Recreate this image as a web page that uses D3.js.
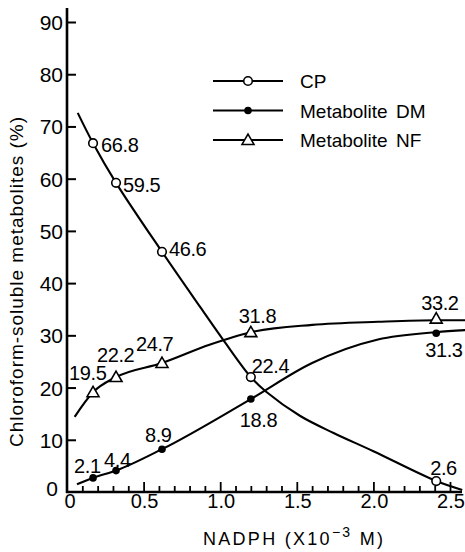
<!DOCTYPE html>
<html><head><meta charset="utf-8">
<script src="https://cdn.jsdelivr.net/npm/d3@7/dist/d3.min.js"></script>
<style>
html,body{margin:0;padding:0;background:#fff;}
svg{display:block;}
text{font-family:"Liberation Sans",Arial,Helvetica,sans-serif;fill:#000;}
</style></head>
<body>
<script>
// ---- data ----
const xTickValues = [0, 0.5, 1.0, 1.5, 2.0, 2.5];
const xTickLabels = ["0", "0.5", "1.0", "1.5", "2.0", "2.5"];
const yTickValues = [0, 10, 20, 30, 40, 50, 60, 70, 80, 90];
const yTickLabels = ["0", "10", "20", "30", "40", "50", "60", "70", "80", "90"];

const markerX = [0.17, 0.32, 0.62, 1.2, 2.41];
const cpY = [66.8, 59.2, 46.0, 22.0, 2.1];
const dmY = [2.7, 4.1, 8.2, 17.8, 30.4];
const nfY = [19.1, 22.0, 24.7, 30.6, 33.2];
const cpLabels = ["66.8", "59.5", "46.6", "22.4", "2.6"];
const dmLabels = ["2.1", "4.4", "8.9", "18.8", "31.3"];
const nfLabels = ["19.5", "22.2", "24.7", "31.8", "33.2"];

// traced fitted curves
const cpCurveX = [0.07, 0.17, 0.32, 0.62, 0.87, 1.03, 1.2, 1.3, 1.52, 1.74, 2.0, 2.41, 2.58];
const cpCurveY = [72.6, 66.8, 59.2, 46.0, 35.4, 28.7, 22.0, 19.2, 14.6, 11.3, 7.8, 2.1, 0.4];
const dmCurveX = [0.065, 0.17, 0.32, 0.62, 1.2, 1.6, 2.03, 2.41, 2.6];
const dmCurveY = [1.5, 2.7, 4.1, 8.2, 17.8, 24.7, 29.2, 30.6, 31.0];
const nfCurveX = [0.05, 0.17, 0.32, 0.62, 0.93, 1.2, 1.6, 2.03, 2.41, 2.6];
const nfCurveY = [14.4, 19.1, 22.0, 24.7, 28.2, 30.6, 32.0, 32.6, 32.9, 32.9];

const legendNames = ["CP", "Metabolite", "Metabolite"];
const legendSuffix = ["", "DM", "NF"];

// ---- drawing ----
const W = 465, H = 552;
const svg = d3.select("body").append("svg").attr("width", W).attr("height", H);

const x = d3.scaleLinear().domain([0, 2.5]).range([67, 450]);
const y = d3.scaleLinear().domain([0, 90]).range([492, 22]);

// axes lines
svg.append("line").attr("x1", 67).attr("x2", 67).attr("y1", 8).attr("y2", 493)
  .attr("stroke", "#000").attr("stroke-width", 2.6);
svg.append("line").attr("x1", 66).attr("x2", 462).attr("y1", 492).attr("y2", 492)
  .attr("stroke", "#000").attr("stroke-width", 2.6);

// y ticks (inward)
const yAxis = d3.axisRight(y).tickValues(yTickValues.slice(1)).tickSize(9).tickFormat("");
const gy = svg.append("g").attr("transform", "translate(67,0)").call(yAxis);
gy.select(".domain").remove();
gy.selectAll("line").attr("stroke", "#000").attr("stroke-width", 2);

// y tick labels
svg.append("g").selectAll("text").data(yTickValues).join("text")
  .attr("x", (d) => d === 0 ? 58 : 63)
  .attr("y", (d) => y(d) + (d === 0 ? 4 : 8))
  .attr("text-anchor", "end")
  .attr("font-size", 21)
  .text((d, i) => yTickLabels[i]);

// x ticks (inward, minor every 0.1)
const minor = d3.range(1, 26).map((i) => i / 10);
const gxm = svg.append("g").attr("transform", "translate(0,492)")
  .call(d3.axisTop(x).tickValues(minor).tickSize(6).tickFormat(""));
gxm.select(".domain").remove();
gxm.selectAll(".tick line").attr("stroke", "#000").attr("stroke-width", 1.8)
  .attr("y2", (d) => (Math.abs(d * 2 - Math.round(d * 2)) < 1e-6) ? -10 : -6);

// x tick labels
svg.append("g").selectAll("text").data(xTickValues).join("text")
  .attr("x", (d) => d === 0 ? 70 : x(d) + 1)
  .attr("y", 508)
  .attr("text-anchor", "middle")
  .attr("font-size", 20)
  .text((d, i) => xTickLabels[i]);

// axis titles
const xt = svg.append("text").attr("x", 203).attr("y", 545).attr("font-size", 18)
  .attr("textLength", 180).attr("lengthAdjust", "spacing");
xt.append("tspan").text("NADPH  (X10");
xt.append("tspan").attr("dy", -8).attr("font-size", 14).text("−3");
xt.append("tspan").attr("dy", 8).text(" M)");

svg.append("text")
  .attr("transform", "translate(23,282) rotate(-90)")
  .attr("text-anchor", "middle")
  .attr("font-size", 19)
  .attr("textLength", 330).attr("lengthAdjust", "spacing")
  .text("Chloroform-soluble metabolites (%)");

// curves
const cpLine = d3.line().x((d) => x(d[0])).y((d) => y(d[1])).curve(d3.curveCatmullRom.alpha(0.5));
const line = d3.line().x((d) => x(d[0])).y((d) => y(d[1])).curve(d3.curveMonotoneX);
function pts(xs, ys) { return xs.map((v, i) => [v, ys[i]]); }
svg.append("path").attr("d", cpLine(pts(cpCurveX, cpCurveY)))
  .attr("fill", "none").attr("stroke", "#000").attr("stroke-width", 2.1);
[[dmCurveX, dmCurveY], [nfCurveX, nfCurveY]].forEach(([xs, ys]) => {
  svg.append("path").attr("d", line(pts(xs, ys)))
    .attr("fill", "none").attr("stroke", "#000").attr("stroke-width", 2.1);
});

// markers
const tri = d3.symbol().type(d3.symbolTriangle).size(62);
function drawMarker(g, kind, cx, cy) {
  if (kind === "circle") {
    g.append("circle").attr("cx", cx).attr("cy", cy).attr("r", 4.3)
      .attr("fill", "#fff").attr("stroke", "#000").attr("stroke-width", 1.6);
  } else if (kind === "dot") {
    g.append("circle").attr("cx", cx).attr("cy", cy).attr("r", 3.8).attr("fill", "#000");
  } else {
    g.append("path").attr("d", tri()).attr("transform", `translate(${cx},${cy + 1})`)
      .attr("fill", "#fff").attr("stroke", "#000").attr("stroke-width", 1.6);
  }
}
const gm = svg.append("g");
markerX.forEach((v, i) => {
  drawMarker(gm, "circle", x(v), y(cpY[i]));
  drawMarker(gm, "dot", x(v), y(dmY[i]));
  drawMarker(gm, "tri", x(v), y(nfY[i]));
});

// value labels (offset from marker)
const cpOff = [[8, 9], [7, 9], [7, 4], [1, -4], [-6, -6]];
const dmOff = [[-19, -5], [-12, -4], [-17, -7], [-11, 28], [-11, 24]];
const nfOff = [[-24, -12], [-19, -15], [-26, -12], [-12, -9], [-15, -9]];
const gl = svg.append("g").attr("font-size", 20).attr("letter-spacing", -0.4);
markerX.forEach((v, i) => {
  gl.append("text").attr("x", x(v) + cpOff[i][0]).attr("y", y(cpY[i]) + cpOff[i][1]).text(cpLabels[i]);
  gl.append("text").attr("x", x(v) + dmOff[i][0]).attr("y", y(dmY[i]) + dmOff[i][1]).text(dmLabels[i]);
  gl.append("text").attr("x", x(v) + nfOff[i][0]).attr("y", y(nfY[i]) + nfOff[i][1]).text(nfLabels[i]);
});

// legend
const kinds = ["circle", "dot", "tri"];
const lg = svg.append("g");
legendNames.forEach((n, i) => {
  const ly = 81 + i * 29.5;
  lg.append("line").attr("x1", 213).attr("x2", 283).attr("y1", ly).attr("y2", ly)
    .attr("stroke", "#000").attr("stroke-width", 2);
  drawMarker(lg, kinds[i], 248, ly);
  const t = lg.append("text").attr("x", 300).attr("y", ly + 7).attr("font-size", 19);
  t.append("tspan").text(n);
  if (legendSuffix[i]) t.append("tspan").attr("x", 396).text(legendSuffix[i]);
});
</script>
</body></html>
